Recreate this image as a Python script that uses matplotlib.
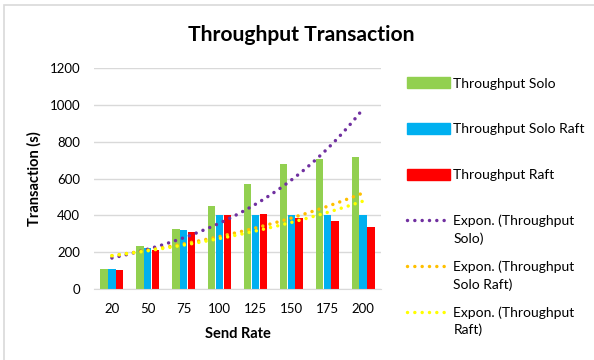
import matplotlib.pyplot as plt
import numpy as np
from matplotlib.patches import Rectangle
from matplotlib.lines import Line2D

plt.rcParams['font.family'] = ['Lato', 'DejaVu Sans']

# data
send_rate = ['20', '50', '75', '100', '125', '150', '175', '200']
solo = [110, 231, 328, 449, 570, 678, 706, 717]
solo_raft = [110, 220, 321, 400, 400, 400, 400, 400]
raft = [105, 213, 310, 400, 409, 388, 370, 339]

bar_colors = ['#92D050', '#00B0F0', '#FF0000']
trend_colors = ['#7030A0', '#FFC000', '#FFFF00']
names = ['Throughput Solo', 'Throughput Solo Raft', 'Throughput Raft']
trend_names = ['Expon. (Throughput', 'Expon. (Throughput', 'Expon. (Throughput']
trend_names2 = ['Solo)', 'Solo Raft)', 'Raft)']

fig = plt.figure(figsize=(5.94, 3.6), dpi=100)
# chart border (only left/top visible in the crop)
fig.patches.append(Rectangle((4 / 594, -0.05), 1.2, 355 / 360 + 0.05,
                             transform=fig.transFigure, fill=False,
                             edgecolor='#D9D9D9', linewidth=1.2))

ax = fig.add_axes([94 / 594, 71 / 360, 287 / 594, 221 / 360])
x = np.arange(1, len(send_rate) + 1)
w = 0.205
off = 0.218
for i, (vals, c) in enumerate(zip([solo, solo_raft, raft], bar_colors)):
    ax.bar(x + (i - 1) * off, vals, width=w, color=c, zorder=2)

# exponential trendlines like Excel: ln(y) = ln(a) + b*x
xs = np.linspace(1, 8, 200)
for vals, c in zip([solo, solo_raft, raft], trend_colors):
    b, lna = np.polyfit(x, np.log(vals), 1)
    ax.plot(xs, np.exp(lna + b * xs), color=c, lw=2.5,
            linestyle=(0, (0.01, 2.1)), dash_capstyle='round', zorder=3)

ax.set_xlim(0.5, 8.5)
ax.set_ylim(0, 1200)
ax.set_yticks(range(0, 1201, 200))
ax.set_xticks(x)
ax.set_xticklabels(send_rate)
ax.grid(axis='y', color='#D9D9D9', linewidth=1, zorder=0)
for s in ['top', 'right', 'left']:
    ax.spines[s].set_visible(False)
ax.spines['bottom'].set_color('#D9D9D9')
ax.tick_params(axis='both', length=0, labelsize=9.5, colors='#000000', pad=10)
ax.tick_params(axis='y', pad=10)
ax.set_xlabel('Send Rate', fontsize=10.5, fontweight='bold', labelpad=9)
ax.set_ylabel('Transaction (s)', fontsize=10.5, fontweight='bold', labelpad=6)

fig.text(0.507, 0.903, 'Throughput Transaction', ha='center', va='center',
         fontsize=15.2, fontweight='bold')

handles = [Rectangle((0, 0), 1, 1, color=c) for c in bar_colors]
handles += [Line2D([], [], color=c, lw=2.5, linestyle=(0, (0.01, 2.1)),
                   dash_capstyle='round') for c in trend_colors]
leg = fig.legend(handles, names + trend_names, loc='upper left',
                 bbox_to_anchor=(400 / 594, 1 - 70 / 360), frameon=False,
                 fontsize=10, handlelength=3.1, handleheight=0.9,
                 handletextpad=0.25, labelspacing=2.4, borderpad=0)

# second lines of the wrapped trendline labels
fig.canvas.draw()
inv = fig.transFigure.inverted()
for t, extra in zip(leg.get_texts()[3:], trend_names2):
    bb = t.get_window_extent()
    x0, y0 = inv.transform((bb.x0, bb.y0 - 17.5))
    fig.text(x0, y0, extra, fontsize=10, ha='left', va='bottom')

fig.savefig('out.png', dpi=100)
